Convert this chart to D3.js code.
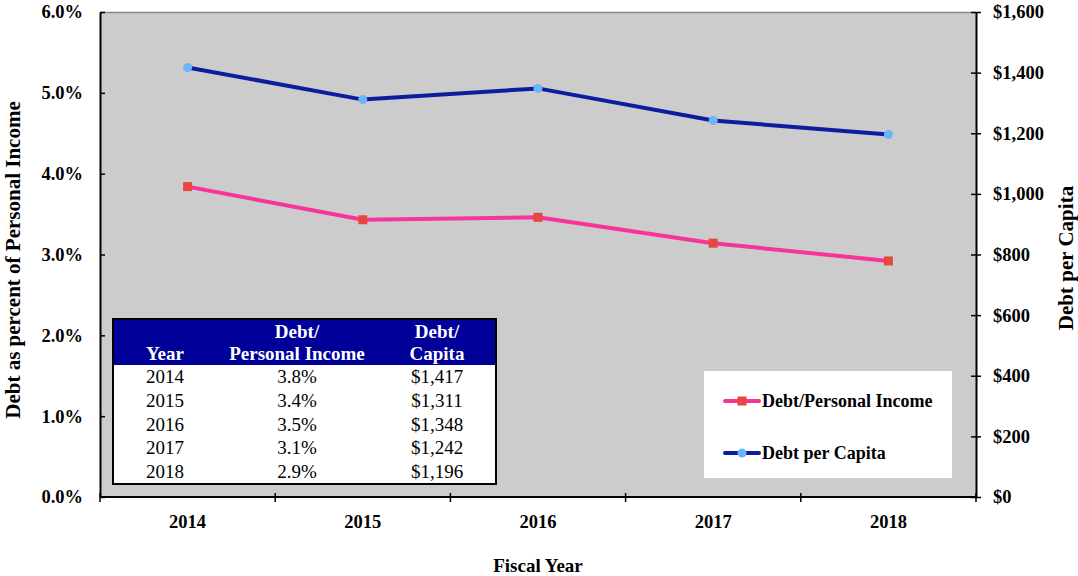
<html>
<head>
<script src="https://cdnjs.cloudflare.com/ajax/libs/d3/7.8.5/d3.min.js"></script>
<style>
  body { margin: 0; background: #fff; }
  text { font-family: 'Liberation Serif', 'Times New Roman', serif; }
</style>
</head>
<body>
<svg id="vis"></svg>
<script>
// data
const years = ['2014', '2015', '2016', '2017', '2018'];
const debtPctIncome = [3.84, 3.43, 3.46, 3.14, 2.92];
const debtPerCapita = [1417, 1311, 1348, 1242, 1196];
const pctTicks = [0, 1, 2, 3, 4, 5, 6];
const dollarTicks = [0, 200, 400, 600, 800, 1000, 1200, 1400, 1600];
const tableHeader = [['', 'Year'], ['Debt/', 'Personal Income'], ['Debt/', 'Capita']];

const width = 1078, height = 576;
const plotL = 100, plotR = 976, plotT = 12, plotB = 497;

const svg = d3.select('#vis').attr('width', width).attr('height', height);

const x = d3.scaleBand().domain(years).range([plotL, plotR]);
const yL = d3.scaleLinear().domain([0, 6]).range([plotB, plotT]);
const yR = d3.scaleLinear().domain([0, 1600]).range([plotB, plotT]);

// plot area
svg.append('rect')
  .attr('x', plotL).attr('y', plotT)
  .attr('width', plotR - plotL).attr('height', plotB - plotT)
  .attr('fill', '#cccccc');
svg.append('line')
  .attr('x1', plotL).attr('x2', plotR).attr('y1', plotT + 0.5).attr('y2', plotT + 0.5)
  .attr('stroke', '#888').attr('stroke-width', 1.5);

// left axis
const gl = svg.append('g').attr('transform', `translate(${plotL},0)`)
  .call(d3.axisLeft(yL).tickValues(pctTicks).tickFormat(d => d.toFixed(1) + '%').tickSizeInner(5).tickSizeOuter(0).tickPadding(12));
gl.selectAll('.tick line').attr('x2', 5);

// right axis
const gr = svg.append('g').attr('transform', `translate(${plotR},0)`)
  .call(d3.axisRight(yR).tickValues(dollarTicks).tickFormat(d => '$' + d3.format(',')(d)).tickSizeInner(5).tickSizeOuter(0).tickPadding(12));
gr.selectAll('.tick line').attr('x1', -5);

// bottom axis
const gb = svg.append('g').attr('transform', `translate(0,${plotB})`)
  .call(d3.axisBottom(x).tickSize(0).tickPadding(18));
const bounds = years.map(d => x(d)).concat([plotR]);
gb.selectAll('.bound').data(bounds).enter().append('line')
  .attr('x1', d => d).attr('x2', d => d).attr('y1', -4).attr('y2', 5)
  .attr('stroke', '#000').attr('stroke-width', 1.5);

[gl, gr, gb].forEach(g => {
  g.select('.domain').attr('stroke', '#000').attr('stroke-width', 2);
  g.selectAll('.tick line').attr('stroke', '#000').attr('stroke-width', 1.5);
  g.selectAll('text').attr('font-size', 18.5).attr('font-weight', 'bold')
    .attr('font-family', "'Liberation Serif', serif").attr('fill', '#000');
});
gb.select('.domain').attr('d', `M${plotL},0H${plotR}`);

// axis titles
svg.append('text')
  .attr('transform', `translate(20,260) rotate(-90)`)
  .attr('text-anchor', 'middle').attr('font-size', 21).attr('font-weight', 'bold')
  .text('Debt as percent of Personal Income');
svg.append('text')
  .attr('transform', `translate(1073,258) rotate(-90)`)
  .attr('text-anchor', 'middle').attr('font-size', 21).attr('font-weight', 'bold')
  .text('Debt per Capita');
svg.append('text')
  .attr('x', 538).attr('y', 572)
  .attr('text-anchor', 'middle').attr('font-size', 19).attr('font-weight', 'bold')
  .text('Fiscal Year');

// lines
const cx = d => x(d) + x.bandwidth() / 2;
const pink = '#f7349a', navy = '#0b1ea0';

svg.append('path')
  .datum(years.map((d, i) => [cx(d), yL(debtPctIncome[i])]))
  .attr('d', d3.line())
  .attr('fill', 'none').attr('stroke', pink).attr('stroke-width', 4);
svg.selectAll('.sq').data(years).enter().append('rect')
  .attr('x', d => cx(d) - 4.5)
  .attr('y', (d, i) => yL(debtPctIncome[i]) - 4.5)
  .attr('width', 9).attr('height', 9)
  .attr('fill', '#e8473f');

svg.append('path')
  .datum(years.map((d, i) => [cx(d), yR(debtPerCapita[i])]))
  .attr('d', d3.line())
  .attr('fill', 'none').attr('stroke', navy).attr('stroke-width', 4);
svg.selectAll('.dot').data(years).enter().append('circle')
  .attr('cx', d => cx(d))
  .attr('cy', (d, i) => yR(debtPerCapita[i]))
  .attr('r', 4.5)
  .attr('fill', '#6cb5fb');

// legend
const lg = svg.append('g');
lg.append('rect').attr('x', 704).attr('y', 371).attr('width', 248).attr('height', 107).attr('fill', '#fff');
const legendItems = [
  { label: 'Debt/Personal Income', color: pink, y: 401, marker: 'sq' },
  { label: 'Debt per Capita', color: navy, y: 453, marker: 'dot' }
];
legendItems.forEach(it => {
  lg.append('line').attr('x1', 725).attr('x2', 759).attr('y1', it.y).attr('y2', it.y)
    .attr('stroke', it.color).attr('stroke-width', 4).attr('stroke-linecap', 'round');
  if (it.marker == 'sq') {
    lg.append('rect').attr('x', 737.5).attr('y', it.y - 4.5).attr('width', 9).attr('height', 9).attr('fill', '#e8473f');
  } else {
    lg.append('circle').attr('cx', 742).attr('cy', it.y).attr('r', 4.5).attr('fill', '#6cb5fb');
  }
  lg.append('text').attr('x', 762).attr('y', it.y + 6)
    .attr('font-size', 18).attr('font-weight', 'bold').text(it.label);
});

// data table
const tx = 113, ty = 319, tw = 383, th = 165, hh = 46;
const colX = [165, 297, 437];
const tb = svg.append('g');
tb.append('rect').attr('x', tx).attr('y', ty).attr('width', tw).attr('height', th)
  .attr('fill', '#fff');
tb.append('rect').attr('x', tx).attr('y', ty).attr('width', tw).attr('height', hh)
  .attr('fill', '#000099');
tb.append('rect').attr('x', tx).attr('y', ty).attr('width', tw).attr('height', th)
  .attr('fill', 'none').attr('stroke', '#000').attr('stroke-width', 2);
tableHeader.forEach((h, i) => {
  h.forEach((line, j) => {
    tb.append('text').attr('x', colX[i]).attr('y', ty + 19 + j * 22)
      .attr('text-anchor', 'middle').attr('font-size', 19).attr('font-weight', 'bold')
      .attr('fill', '#fff').text(line);
  });
});
const rowH = (th - hh) / years.length;
years.forEach((yr, i) => {
  const yy = ty + hh + rowH * i + 18;
  const cells = [yr, debtPctIncome[i].toFixed(1) + '%', '$' + d3.format(',')(debtPerCapita[i])];
  cells.forEach((c, j) => {
    tb.append('text').attr('x', colX[j]).attr('y', yy)
      .attr('text-anchor', 'middle').attr('font-size', 19).text(c);
  });
});
</script>
</body>
</html>
